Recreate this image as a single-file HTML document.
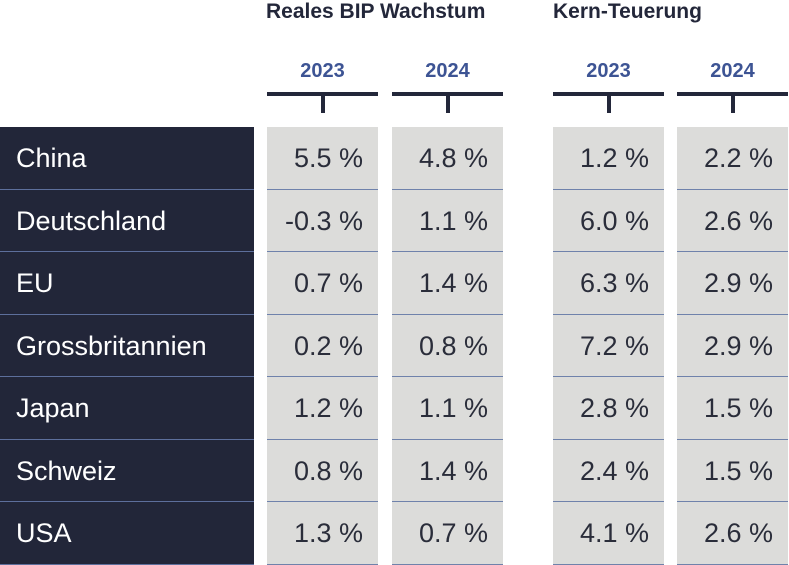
<!DOCTYPE html>
<html><head><meta charset="utf-8"><style>
body{margin:0;width:789px;height:563px;background:#fff;position:relative;overflow:hidden;font-family:"Liberation Sans",sans-serif}
.a{position:absolute}
.t{font-weight:bold;font-size:21px;color:#23273a;top:0;white-space:nowrap}
.y{font-weight:bold;font-size:20px;color:#3d5494;top:60px;text-align:center}
.bar{height:4px;background:#23273a;top:92px}
.stem{width:4px;height:20px;background:#23273a;top:93px}
.lab{left:0;width:254px;background:#222639;color:#fff;font-size:27px;line-height:62px;padding-left:16px;box-sizing:border-box;border-bottom:1.5px solid #5d6f9c}
.c{background:#dcdcda;color:#2a2d3a;font-size:27px;line-height:62px;text-align:right;padding-right:15px;box-sizing:border-box;border-bottom:1.5px solid #6f82ab}
</style></head><body>
<div class="a t" style="left:266px">Reales BIP Wachstum</div>
<div class="a t" style="left:553px">Kern-Teuerung</div>
<div id="root"></div>
<script>
const countries=["China","Deutschland","EU","Grossbritannien","Japan","Schweiz","USA"];
const gdp2023=["5.5","-0.3","0.7","0.2","1.2","0.8","1.3"];
const gdp2024=["4.8","1.1","1.4","0.8","1.1","1.4","0.7"];
const core2023=["1.2","6.0","6.3","7.2","2.8","2.4","4.1"];
const core2024=["2.2","2.6","2.9","2.9","1.5","1.5","2.6"];
const years=["2023","2024","2023","2024"];
const cols=[[267,111],[392,111],[553,111],[677,111]];
const series=[gdp2023,gdp2024,core2023,core2024];
const colNames=["gdp-2023","gdp-2024","core-2023","core-2024"];
const top0=127,rowH=62.5;
const b=document.body;
function mk(cls,style,txt){const d=document.createElement('div');d.className='a '+cls;Object.assign(d.style,style);if(txt!=null)d.textContent=txt;b.appendChild(d);return d;}
cols.forEach((c,i)=>{
  const y=mk('y',{left:c[0]+'px',width:c[1]+'px'},years[i]);
  
  
  const br=mk('bar',{left:c[0]+'px',width:c[1]+'px'});
  
  
  const st=mk('stem',{left:(c[0]+c[1]/2-2)+'px'});
  
  
});
countries.forEach((n,r)=>{
  const t=top0+r*rowH;
  const l=mk('lab',{top:t+'px',height:rowH+'px'},n);
  
  
  cols.forEach((c,i)=>{
    const d=mk('c',{left:c[0]+'px',width:c[1]+'px',top:t+'px',height:rowH+'px'},series[i][r]+' %');
    
    
  });
});
</script>
</body></html>
